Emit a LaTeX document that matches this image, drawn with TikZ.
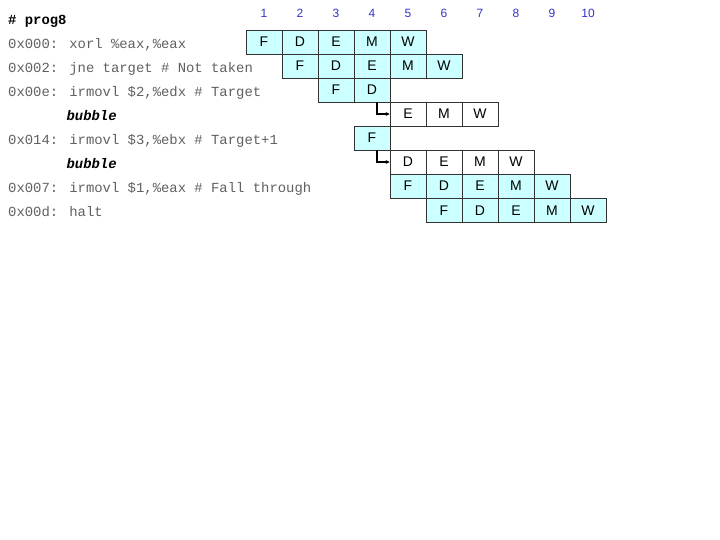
\documentclass[tikz,border=0pt]{standalone}
\usepackage{fontspec}
\setmainfont{Liberation Sans}
\newfontfamily\codefont{Liberation Mono}
\usetikzlibrary{arrows.meta}
\definecolor{stagefill}{HTML}{CCFFFF}
\definecolor{codegray}{HTML}{606060}
\definecolor{cycleblue}{HTML}{3333CC}
\tikzset{
  stage/.style={draw=black!80, line width=0.8pt, fill=stagefill, minimum width=36pt, minimum height=24pt, inner sep=0pt, text height=10pt, text depth=0pt, font=\fontsize{14}{14}\selectfont},
  bubblestage/.style={stage, fill=white},
  instr/.style={anchor=west, inner sep=0pt, text height=8pt, text depth=2pt, text=codegray, font=\codefont\fontsize{13.9}{14}\selectfont},
  bubbletext/.style={instr, text=black, font=\codefont\bfseries\itshape\fontsize{13.9}{14}\selectfont},
  cyclenum/.style={text=cycleblue, text height=8.5pt, text depth=0pt, font=\fontsize{12}{12}\selectfont},
  squash/.style={line width=1.5pt, -{Stealth[length=4pt,width=4pt]}}
}
\begin{document}
\begin{tikzpicture}[x=1pt,y=-1pt]
  \useasboundingbox (0,0) rectangle (720,540);
  % cycle numbers
  \foreach \k in {1,...,10}
    \node[cyclenum] (n\k) at ({264+36*(\k-1)},13) {\k};
  % program text
  \node[instr, text=black, font=\codefont\bfseries\fontsize{13.9}{14}\selectfont] (title) at (8,21.5) {\# prog8};
  \node[instr] (i1) at (8,45.5) {0x000: xorl \%eax,\%eax};
  \node[instr] (i2) at (8,69.5) {0x002: jne target \# Not taken};
  \node[instr] (i3) at (8,93.5) {0x00e: irmovl \$2,\%edx \# Target};
  \node[bubbletext] (i4) at (66.4,117.5) {bubble};
  \node[instr] (i5) at (8,141.5) {0x014: irmovl \$3,\%ebx \# Target+1};
  \node[bubbletext] (i6) at (66.4,165.5) {bubble};
  \node[instr] (i7) at (8,189.5) {0x007: irmovl \$1,\%eax \# Fall through};
  \node[instr] (i8) at (8,213.5) {0x00d: halt};
  % pipeline stages
  \foreach \r/\c/\st/\sty in {1/1/{F,D,E,M,W}/stage, 2/2/{F,D,E,M,W}/stage,
      3/3/{F,D}/stage, 4/5/{E,M,W}/bubblestage, 5/4/{F}/stage,
      6/5/{D,E,M,W}/bubblestage, 7/5/{F,D,E,M,W}/stage, 8/6/{F,D,E,M,W}/stage}
    \foreach \l [count=\i from 0] in \st {
      \pgfmathtruncatemacro\k{\c+\i}
      \node[\sty] (c\r-\k) at ({264+36*(\k-1)},{42+24*(\r-1)}) {\l};
    }
  % cancelled instructions
  \draw[squash] ([xshift=5pt]c3-4.south) |- (c4-5.west);
  \draw[squash] ([xshift=5pt]c5-4.south) |- (c6-5.west);
\end{tikzpicture}
\end{document}
